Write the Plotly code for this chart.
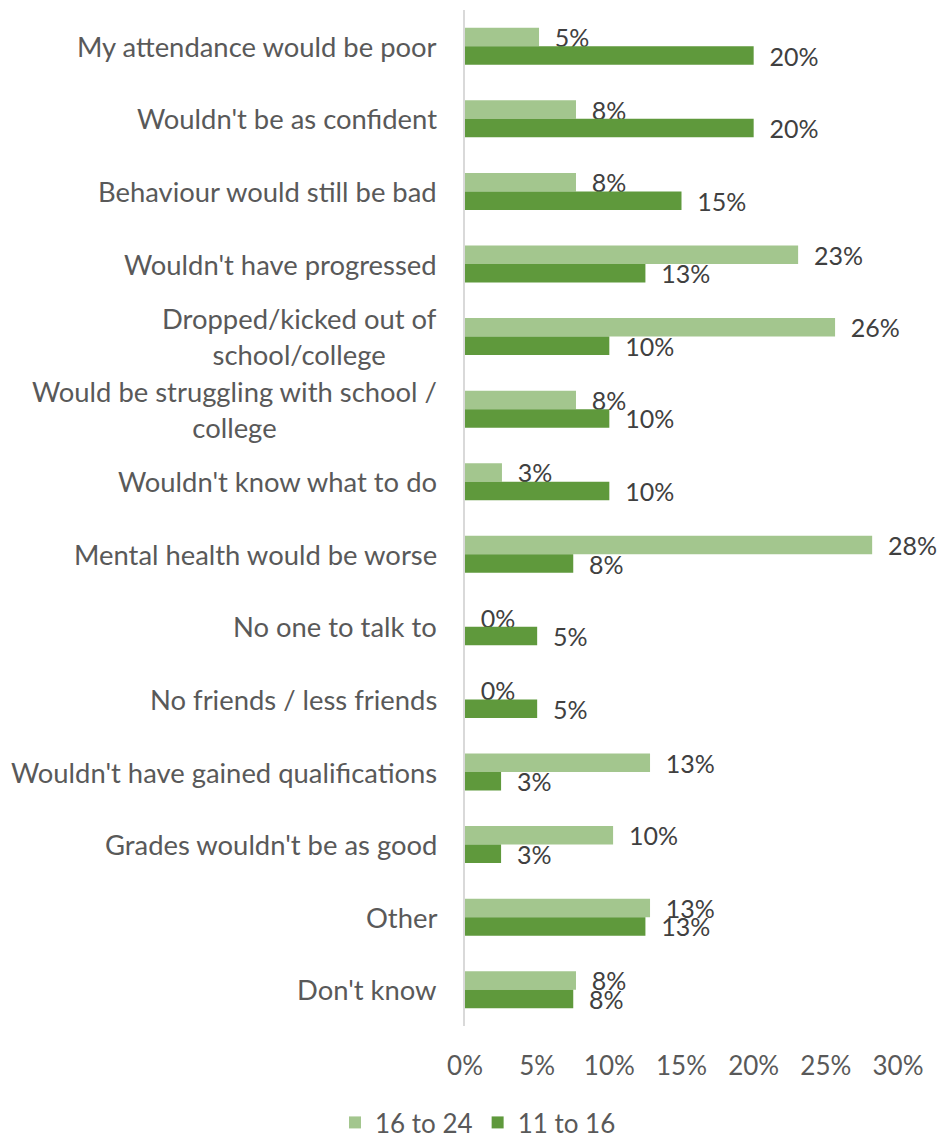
import plotly.graph_objects as go

categories = [
    "My attendance would be poor",
    "Wouldn't be as confident",
    "Behaviour would still be bad",
    "Wouldn't have progressed",
    "Dropped/kicked out of<br>school/college",
    "Would be struggling with school /<br>college",
    "Wouldn't know what to do",
    "Mental health would be worse",
    "No one to talk to",
    "No friends / less friends",
    "Wouldn't have gained qualifications",
    "Grades wouldn't be as good",
    "Other",
    "Don't know",
]

# Share of respondents (%) per age group
age_16_24 = [5.13, 7.69, 7.69, 23.08, 25.64, 7.69, 2.56, 28.21, 0.0, 0.0, 12.82, 10.26, 12.82, 7.69]
age_11_16 = [20.0, 20.0, 15.0, 12.5, 10.0, 10.0, 10.0, 7.5, 5.0, 5.0, 2.5, 2.5, 12.5, 7.5]

x_ticks = [0, 5, 10, 15, 20, 25, 30]

FONT = "Lato, 'Open Sans', sans-serif"
LIGHT = "#A3C68E"
DARK = "#5F993C"
LABEL_PAD = "\u00a0\u00a0"

fig = go.Figure()
for name, vals, color in [("16 to 24", age_16_24, LIGHT), ("11 to 16", age_11_16, DARK)]:
    fig.add_trace(go.Bar(
        y=categories,
        x=vals,
        name=name,
        orientation="h",
        marker=dict(color=color, line=dict(width=0)),
        texttemplate=LABEL_PAD + "%{x:.0f}%",
        textposition="outside",
        textfont=dict(family=FONT, size=25, color="#404040"),
        constraintext="none",
        cliponaxis=False,
    ))

# Category labels, right-aligned with centred line wrapping
for cat in categories:
    fig.add_annotation(
        x=0, y=cat, xref="x", yref="y",
        text=cat, showarrow=False,
        xanchor="right", yanchor="middle", align="center",
        xshift=-26,
        font=dict(family=FONT, size=27.4, color="#595959"),
    )

fig.update_layout(
    width=940,
    height=1138,
    margin=dict(l=465, r=42, t=10, b=112, autoexpand=False),
    paper_bgcolor="white",
    plot_bgcolor="white",
    barmode="group",
    bargap=0.49,
    bargroupgap=0,
    showlegend=True,
    legend=dict(
        orientation="h",
        x=0.03, xanchor="center",
        y=-0.095, yanchor="middle",
        font=dict(family=FONT, size=26, color="#595959"),
        itemwidth=30,
        traceorder="normal",
    ),
    font=dict(family=FONT),
)

fig.update_xaxes(
    range=[0, 30],
    tickvals=x_ticks,
    ticktext=[f"{t}%" for t in x_ticks],
    showgrid=False,
    zeroline=False,
    showline=False,
    ticks="",
    ticklabelstandoff=22,
    tickfont=dict(family=FONT, size=26, color="#595959"),
)

fig.update_yaxes(
    categoryorder="array",
    categoryarray=categories,
    autorange="reversed",
    showticklabels=False,
    showgrid=False,
    zeroline=False,
    showline=True,
    linecolor="#D9D9D9",
    linewidth=2,
    ticks="",
)

fig.write_html("out.html")
